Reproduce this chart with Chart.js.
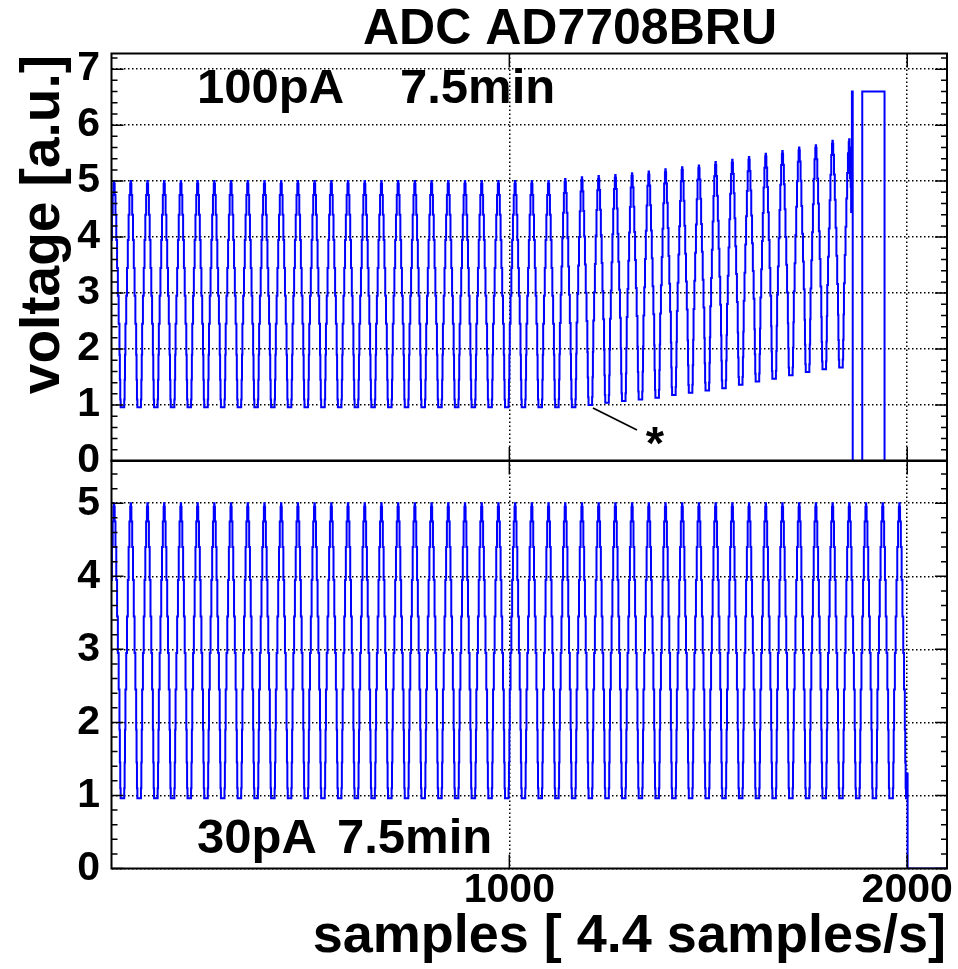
<!DOCTYPE html>
<html>
<head>
<meta charset="utf-8">
<script src="https://cdn.jsdelivr.net/npm/chart.js@4/dist/chart.umd.min.js"></script>
<style>
  html, body { margin: 0; padding: 0; background: #fff; }
  #wrap { position: relative; width: 958px; height: 969px; overflow: hidden; background: #fff; }
  #cTop { position: absolute; left: 0; top: 0; }
  #cBot { position: absolute; left: 0; top: 400px; }
</style>
</head>
<body>
<div id="wrap">
  <canvas id="cTop" width="958" height="490"></canvas>
  <canvas id="cBot" width="958" height="569"></canvas>
</div>
<script>
// ---------------- values ----------------
const titleText = 'ADC AD7708BRU';
const yTitleText = 'voltage [a.u.]';
const xTitleText = 'samples [ 4.4 samples/s]';
const label100 = ['100pA', '7.5min'];
const label30 = ['30pA', '7.5min'];
const starText = '*';

const xTickLabels = [1000, 2000];
const yTicksTop = [0, 1, 2, 3, 4, 5, 6, 7];
const yTicksBottom = [0, 1, 2, 3, 4, 5];

// one period (42 samples) of the ADC staircase, starting at a peak
const cycleShape = [5.00, 4.95, 4.75, 4.75, 4.40, 4.40, 3.95, 3.95, 3.45, 3.45, 2.95, 2.95, 2.45, 2.45, 1.90, 1.45, 1.10,
  0.96, 0.96, 0.96, 0.96, 0.96, 0.96, 0.96, 0.96, 0.96,
  1.10, 1.45, 1.90, 2.45, 2.45, 2.95, 2.95, 3.45, 3.45, 3.95, 3.95, 4.40, 4.40, 4.75, 4.75, 4.95];
const firstPeakSample = 6;

// 100 pA run: peak of each cycle and the trough that follows it
const peaks100 = [5.00, 5.00, 5.00, 5.00, 5.00, 5.00, 5.00, 5.00, 5.00, 5.00,
  5.00, 5.00, 5.00, 5.00, 5.00, 5.00, 5.00, 5.00, 5.00, 5.00,
  5.00, 5.00, 5.00, 5.00, 5.00, 5.00, 5.00, 5.04, 5.07, 5.09,
  5.11, 5.14, 5.17, 5.21, 5.25, 5.28, 5.34, 5.38, 5.43, 5.49,
  5.54, 5.60, 5.64, 5.72, 5.75];
const troughs100 = [0.96, 0.96, 0.96, 0.96, 0.96, 0.96, 0.96, 0.96, 0.96, 0.96,
  0.96, 0.96, 0.96, 0.96, 0.96, 0.96, 0.96, 0.96, 0.96, 0.96,
  0.96, 0.96, 0.96, 0.96, 0.96, 0.96, 0.96, 0.96, 1.00, 1.04,
  1.07, 1.10, 1.13, 1.18, 1.22, 1.26, 1.30, 1.36, 1.42, 1.47,
  1.53, 1.59, 1.64, 1.67];
// end of the 100 pA run: [sample, value] where the value changes
const tail100 = [[1855, 5.55], [1856, 5.05], [1857, 5.60], [1858, 4.90], [1859, 4.45], [1860, 5.20],
  [1861, 6.60], [1863, 0.00], [1887, 6.60], [1943, 0.00], [2100, 0.00]];

// 30 pA run
const peaks30 = [5.00, 5.00, 5.00, 5.00, 5.00, 5.00, 5.00, 5.00, 5.00, 5.00,
  5.00, 5.00, 5.00, 5.00, 5.00, 5.00, 5.00, 5.00, 5.00, 5.00,
  5.00, 5.00, 5.00, 5.00, 5.00, 5.00, 5.00, 5.00, 5.00, 5.00,
  5.00, 5.00, 5.00, 5.00, 5.00, 5.00, 5.00, 5.00, 5.00, 5.00,
  5.00, 5.00, 5.00, 5.00, 5.00, 5.00, 5.00, 5.00];
const troughs30 = [0.96, 0.96, 0.96, 0.96, 0.96, 0.96, 0.96, 0.96, 0.96, 0.96,
  0.96, 0.96, 0.96, 0.96, 0.96, 0.96, 0.96, 0.96, 0.96, 0.96,
  0.96, 0.96, 0.96, 0.96, 0.96, 0.96, 0.96, 0.96, 0.96, 0.96,
  0.96, 0.96, 0.96, 0.96, 0.96, 0.96, 0.96, 0.96, 0.96, 0.96,
  0.96, 0.96, 0.96, 0.96, 0.96, 0.96, 0.96, 0.96];
const tail30 = [[2000, 1.30], [2001, 0.00], [2100, 0.00]];

// ---------------- build the stepped series ----------------
function buildWave(peaks, troughs, tail) {
  const n = cycleShape.length;
  const lo = Math.min(...cycleShape), hi = Math.max(...cycleShape);
  const riseStart = cycleShape.lastIndexOf(lo) + 1;
  const level = (i, top, bot) => bot + (cycleShape[i] - lo) / (hi - lo) * (top - bot);
  const pts = [];
  for (let s = 0; s < firstPeakSample; s++) {
    pts.push({x: s, y: level(n - firstPeakSample + s, peaks[0], troughs[0])});
  }
  const last = peaks.length - 1;
  for (let k = 0; k <= last; k++) {
    const start = firstPeakSample + k * n;
    const stop = k < last ? n : tail[0][0] - start;
    const bot = troughs[Math.min(k, troughs.length - 1)];
    for (let i = 0; i < stop; i++) {
      const top = i >= riseStart ? peaks[k + 1] : peaks[k];
      pts.push({x: start + i, y: level(i, top, bot)});
    }
  }
  tail.forEach(([x, y]) => pts.push({x, y}));
  return pts;
}

const FONT = '"Liberation Sans", Arial, Helvetica, sans-serif';

function decorPlugin(id, offsetY, drawTexts) {
  return {
    id,
    afterDraw(chart) {
      const {ctx, chartArea: a, scales: {x, y}} = chart;
      ctx.save();
      ctx.strokeStyle = '#000';
      ctx.setLineDash([]);
      ctx.lineWidth = 1.5;
      ctx.beginPath();
      const nTicks = Math.floor(y.max / 0.2 + 1e-6);
      for (let j = 0; j <= nTicks; j++) {
        const py = y.getPixelForValue(j * 0.2);
        const len = j % 5 === 0 ? 12 : 6;
        ctx.moveTo(a.left, py); ctx.lineTo(a.left + len, py);
        ctx.moveTo(a.right, py); ctx.lineTo(a.right - len, py);
      }
      xTickLabels.forEach(v => {
        const px = x.getPixelForValue(v);
        ctx.moveTo(px, a.top); ctx.lineTo(px, a.top + 14);
        ctx.moveTo(px, a.bottom); ctx.lineTo(px, a.bottom - 14);
      });
      ctx.stroke();
      ctx.lineWidth = 2;
      ctx.strokeRect(a.left, a.top, a.right - a.left, a.bottom - a.top);
      ctx.fillStyle = '#000';
      drawTexts(ctx, offsetY, chart);
      ctx.restore();
    }
  };
}

function gridOpts() {
  return {color: '#000', lineWidth: 1.5, drawTicks: false};
}

const tickFont = {family: FONT, weight: 'bold', size: 41, lineHeight: 1};

// ---------------- top panel ----------------
new Chart(document.getElementById('cTop'), {
  type: 'line',
  data: {datasets: [{
    data: buildWave(peaks100, troughs100, tail100),
    borderColor: '#0000ff', borderWidth: 2, pointRadius: 0, stepped: true, fill: false
  }]},
  options: {
    responsive: false, animation: false, events: [], parsing: false,
    layout: {padding: {top: 53.5, right: 11, bottom: 29, left: 0}},
    plugins: {legend: {display: false}, tooltip: {enabled: false}, title: {display: false}},
    scales: {
      x: {
        type: 'linear', min: 0, max: 2100,
        afterBuildTicks: s => { s.ticks = xTickLabels.map(v => ({value: v})); },
        afterFit: s => { s.height = 0; s.paddingLeft = 0; s.paddingRight = 0; },
        ticks: {display: false},
        grid: gridOpts(),
        border: {display: false, dash: [1.5, 2.5]}
      },
      y: {
        type: 'linear', min: 0, max: 7.28,
        afterBuildTicks: s => { s.ticks = yTicksTop.map(v => ({value: v})); },
        afterFit: s => { s.width = 111.5; s.paddingTop = 0; s.paddingBottom = 0; },
        ticks: {padding: 11.5, color: '#000', font: tickFont},
        grid: gridOpts(),
        border: {display: false, dash: [1.5, 2.5]}
      }
    }
  },
  plugins: [decorPlugin('decorTop', 0, (ctx, oy) => {
    ctx.textBaseline = 'alphabetic';
    ctx.font = 'bold 50px ' + FONT;
    ctx.textAlign = 'center';
    ctx.fillText(titleText, 570, 44 - oy);
    ctx.font = 'bold 49px ' + FONT;
    ctx.textAlign = 'left';
    ctx.fillText(label100[0], 197, 103 - oy);
    ctx.fillText(label100[1], 400, 103 - oy);
    ctx.font = 'bold 47px ' + FONT;
    ctx.textAlign = 'center';
    ctx.fillText(starText, 655, 459 - oy);
    ctx.lineWidth = 1.8;
    ctx.beginPath();
    ctx.moveTo(593, 408 - oy); ctx.lineTo(637, 430 - oy);
    ctx.stroke();
    ctx.save();
    ctx.translate(59, 55 - oy);
    ctx.rotate(-Math.PI / 2);
    ctx.font = 'bold 55px ' + FONT;
    ctx.textAlign = 'right';
    ctx.fillText(yTitleText, 0, 0);
    ctx.restore();
  })]
});

// ---------------- bottom panel ----------------
new Chart(document.getElementById('cBot'), {
  type: 'line',
  data: {datasets: [{
    data: buildWave(peaks30, troughs30, tail30),
    borderColor: '#0000ff', borderWidth: 2, pointRadius: 0, stepped: true, fill: false
  }]},
  options: {
    responsive: false, animation: false, events: [], parsing: false,
    layout: {padding: {top: 60.5, right: 11, bottom: 0, left: 0}},
    plugins: {legend: {display: false}, tooltip: {enabled: false}, title: {display: false}},
    scales: {
      x: {
        type: 'linear', min: 0, max: 2100,
        afterBuildTicks: s => { s.ticks = xTickLabels.map(v => ({value: v})); },
        afterFit: s => { s.height = 100.5; s.paddingLeft = 0; s.paddingRight = 0; },
        ticks: {padding: 2, color: '#000', font: tickFont, maxRotation: 0, autoSkip: false,
                callback: v => String(v)},
        grid: gridOpts(),
        border: {display: false, dash: [1.5, 2.5]}
      },
      y: {
        type: 'linear', min: 0, max: 5.585,
        afterBuildTicks: s => { s.ticks = yTicksBottom.map(v => ({value: v})); },
        afterFit: s => { s.width = 111.5; s.paddingTop = 0; s.paddingBottom = 0; },
        ticks: {padding: 11.5, color: '#000', font: tickFont},
        grid: gridOpts(),
        border: {display: false, dash: [1.5, 2.5]}
      }
    }
  },
  plugins: [decorPlugin('decorBot', 400, (ctx, oy) => {
    ctx.textBaseline = 'alphabetic';
    ctx.font = 'bold 49px ' + FONT;
    ctx.textAlign = 'left';
    ctx.fillText(label30[0], 197, 853 - oy);
    ctx.fillText(label30[1], 337, 853 - oy);
    ctx.font = 'bold 54px ' + FONT;
    ctx.textAlign = 'right';
    ctx.fillText(xTitleText, 946, 952 - oy);
  })]
});
</script>
</body>
</html>
